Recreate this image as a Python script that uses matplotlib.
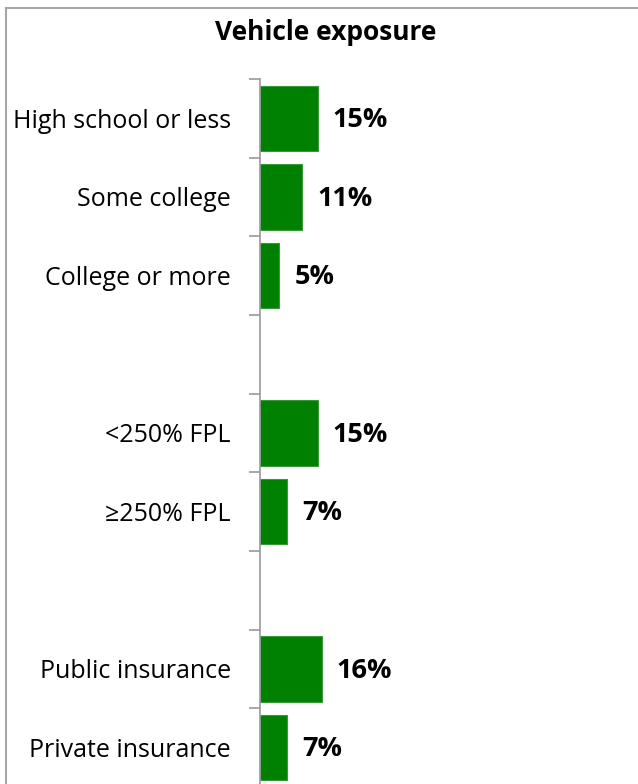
import matplotlib.pyplot as plt
from matplotlib.lines import Line2D

# data
categories = ["High school or less", "Some college", "College or more", "",
              "<250% FPL", "\u2265250% FPL", "",
              "Public insurance", "Private insurance"]
values = [15, 11, 5, None, 15, 7, None, 16, 7]

W, H = 638, 784
fig = plt.figure(figsize=(W / 100, H / 100), dpi=100)
plt.rcParams['font.family'] = ['Open Sans', 'DejaVu Sans']

ax_left = 260 / W
ax_top = 1 - 79 / H
ax_bottom = 1 - 787 / H
ax = fig.add_axes([ax_left, ax_bottom, 1 - ax_left, ax_top - ax_bottom])

green = '#008000'
pos = list(range(len(categories)))
for i, v in zip(pos, values):
    if v is None:
        continue
    ax.barh(i, v, height=0.83, color=green, edgecolor='#3a9a3a', linewidth=0.8)
    ax.text(v + 3.9, i + 0.02, f"{v}%", va='center', ha='left',
            fontsize=19.5, fontweight='bold', color='black')

ax.set_xlim(0, 98)
ax.set_ylim(len(categories) - 0.5, -0.5)

# boundary ticks (major) and label ticks (minor)
ax.set_yticks([p - 0.5 for p in pos] + [len(pos) - 0.5])
ax.set_yticklabels([])
ax.set_yticks(pos, minor=True)
ax.set_yticklabels(categories, minor=True, fontsize=18)
ax.tick_params(axis='y', which='major', length=8, width=1.2, color='#999999')
ax.tick_params(axis='y', which='minor', length=0, pad=21)
ax.set_xticks([])

for s in ['top', 'right', 'bottom']:
    ax.spines[s].set_visible(False)
ax.spines['left'].set_color('#999999')
ax.spines['left'].set_linewidth(1.2)

fig.text(326 / W, 1 - 32 / H, "Vehicle exposure", ha='center', va='center',
         fontsize=19, fontweight='bold')

# outer chart border (left and top)
fig.add_artist(Line2D([6 / W, 6 / W], [0, 1 - 8 / H], color='#a6a6a6', linewidth=1.5))
fig.add_artist(Line2D([6 / W, 1], [1 - 8 / H, 1 - 8 / H], color='#a6a6a6', linewidth=1.5))

fig.savefig('out.png', dpi=100)
